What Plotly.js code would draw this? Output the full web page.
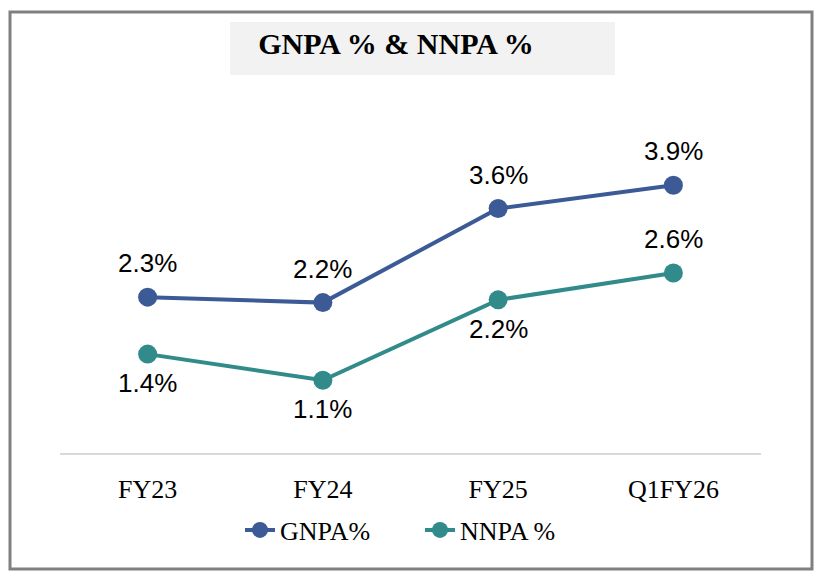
<!DOCTYPE html>
<html>
<head>
<meta charset="utf-8">
<script src="https://cdn.plot.ly/plotly-3.0.1.min.js"></script>
<style>html,body{margin:0;padding:0;background:#fff;}#chart{width:819px;height:576px;}</style>
</head>
<body>
<div id="chart"></div>
<script>
const categories = ["FY23", "FY24", "FY25", "Q1FY26"];
const gnpa = [2.27, 2.19, 3.56, 3.9];
const nnpa = [1.44, 1.06, 2.23, 2.62];
const gnpaName = "GNPA%";
const nnpaName = "NNPA %";
const titleText = "GNPA % & NNPA %";
// label placement: true = above the point, false = below
const gnpaAbove = [true, true, true, true];
const nnpaAbove = [false, false, false, true];

const labelFont = {family: "Liberation Sans, Arial, sans-serif", size: 26, color: "#000"};
const serif = "Liberation Serif, Times New Roman, serif";

const traces = [
  {
    x: categories, y: gnpa, name: gnpaName, type: "scatter", mode: "lines+markers",
    line: {color: "#3b5a96", width: 4},
    marker: {color: "#3b5a96", size: 19},
    hoverinfo: "skip", cliponaxis: false
  },
  {
    x: categories, y: nnpa, name: nnpaName, type: "scatter", mode: "lines+markers",
    line: {color: "#318b8a", width: 4},
    marker: {color: "#318b8a", size: 19},
    hoverinfo: "skip", cliponaxis: false
  }
];

function labels(vals, above) {
  return vals.map((v, i) => ({
    x: categories[i], y: v, xref: "x", yref: "y",
    text: v.toFixed(1) + "%", showarrow: false,
    font: labelFont, xanchor: "center", yanchor: "middle",
    yshift: above[i] ? 34 : -29
  }));
}

const L = 60, R = 58, T = 144, B = 123, W = 819, H = 576;
const pw = W - L - R, ph = H - T - B;
const px = v => (v - L) / pw;
const py = v => (H - B - v) / ph;

const layout = {
  width: W, height: H,
  margin: {l: L, r: R, t: T, b: B},
  paper_bgcolor: "#fff", plot_bgcolor: "#fff",
  showlegend: true,
  title: {
    text: "<b>" + titleText + "</b>",
    font: {family: serif, size: 30, color: "#000"},
    x: 396 / W, xanchor: "center", xref: "container",
    y: 1 - 43 / H, yanchor: "middle", yref: "container"
  },
  xaxis: {
    type: "category", range: [-0.5, 3.5],
    showline: true, linecolor: "#d9d9d9", linewidth: 2,
    showgrid: false, zeroline: false, ticks: "",
    tickfont: {family: serif, size: 26, color: "#000"},
    ticklabelstandoff: 12, fixedrange: true
  },
  yaxis: {
    range: [0, 4.5], visible: false, showgrid: false, zeroline: false, fixedrange: true
  },
  legend: {
    orientation: "h", x: px(240), xanchor: "left",
    yref: "container", y: 1 - 530 / H, yanchor: "middle",
    entrywidth: 135, entrywidthmode: "pixels",
    font: {family: serif, size: 26, color: "#000"},
    bgcolor: "rgba(0,0,0,0)", itemclick: false, itemdoubleclick: false
  },
  annotations: labels(gnpa, gnpaAbove).concat(labels(nnpa, nnpaAbove)),
  shapes: [
    {type: "rect", xref: "paper", yref: "paper", layer: "below",
     x0: px(230), x1: px(615), y0: py(75), y1: py(22),
     fillcolor: "#f2f2f2", line: {width: 0}},
    {type: "rect", xref: "paper", yref: "paper", layer: "above",
     x0: px(10), x1: px(812), y0: py(569), y1: py(12),
     fillcolor: "rgba(0,0,0,0)", line: {color: "#808080", width: 3}}
  ],
  hovermode: false
};

Plotly.newPlot("chart", traces, layout, {displayModeBar: false, staticPlot: true});
</script>
</body>
</html>
